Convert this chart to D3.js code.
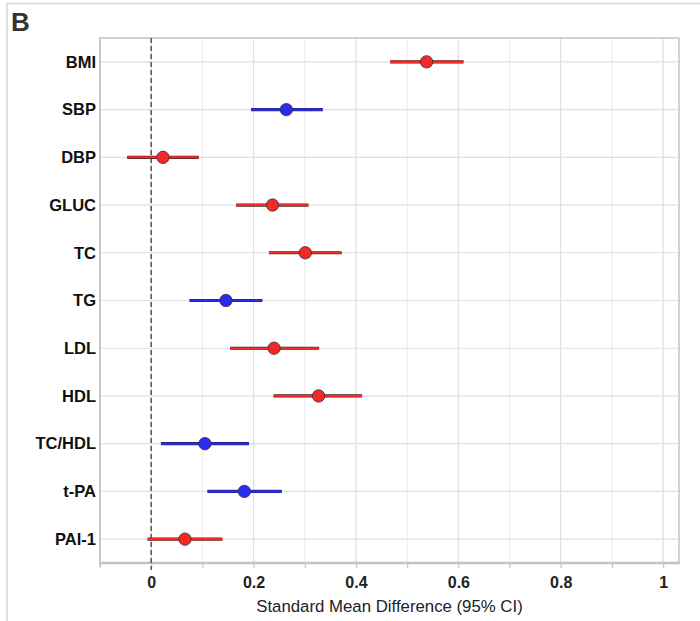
<!DOCTYPE html>
<html>
<head>
<meta charset="utf-8">
<script src="https://cdn.jsdelivr.net/npm/d3@7"></script>
<style>
  html, body { margin: 0; padding: 0; background: #fff; }
  svg { display: block; }
</style>
</head>
<body>
<svg id="chart" width="700" height="621"></svg>
<script>
// Forest plot: standardized mean difference with 95% CI per marker
const categories = ["BMI", "SBP", "DBP", "GLUC", "TC", "TG", "LDL", "HDL", "TC/HDL", "t-PA", "PAI-1"];
const estimates  = [0.538, 0.264, 0.023, 0.237, 0.301, 0.146, 0.240, 0.327, 0.105, 0.182, 0.066];
const ciLower    = [0.467, 0.195, -0.047, 0.166, 0.230, 0.075, 0.154, 0.239, 0.019, 0.110, -0.007];
const ciUpper    = [0.610, 0.335, 0.093, 0.307, 0.372, 0.217, 0.328, 0.412, 0.191, 0.255, 0.139];
const groups     = ["red", "blue", "red", "red", "red", "blue", "red", "red", "blue", "blue", "red"];
const xTicks     = [0, 0.2, 0.4, 0.6, 0.8, 1];
const xMinorTicks = [-0.1, 0.1, 0.3, 0.5, 0.7, 0.9];
const axisTitle  = "Standard Mean Difference (95% CI)";
const panelLabel = "B";

const rows = categories.map((c, i) => ({
  name: c, est: estimates[i], lo: ciLower[i], hi: ciUpper[i], group: groups[i]
}));

const palette = { red: "#f52828", blue: "#2b2bf0" };
const edgePalette = { red: "#4a2424", blue: "#20206a" };
const fontFamily = "Liberation Sans, Arial, Helvetica, sans-serif";

const svg = d3.select("#chart");
const plotLeft = 100, plotRight = 679, plotTop = 38, plotBottom = 563;

const x = d3.scaleLinear().domain([-0.1, 1.031]).range([plotLeft, plotRight]);
const y = d3.scalePoint().domain(categories).range([plotTop, plotBottom]).padding(0.5);

// outer panel frame
svg.append("path")
  .attr("d", `M7,621 V3.5 H700`)
  .attr("fill", "none")
  .attr("stroke", "#d4d4d4")
  .attr("stroke-width", 1.5);

svg.append("text")
  .attr("x", 11).attr("y", 31)
  .attr("font-family", fontFamily)
  .attr("font-weight", "bold")
  .attr("font-size", 26)
  .attr("fill", "#333")
  .text(panelLabel);

// grid
const grid = svg.append("g");
grid.selectAll("line.minor").data(xMinorTicks.filter(d => d > -0.1)).join("line")
  .attr("class", "minor")
  .attr("x1", d => x(d)).attr("x2", d => x(d))
  .attr("y1", plotTop).attr("y2", plotBottom)
  .attr("stroke", "#ececec").attr("stroke-width", 1);
grid.selectAll("line.major").data(xTicks).join("line")
  .attr("class", "major")
  .attr("x1", d => x(d)).attr("x2", d => x(d))
  .attr("y1", plotTop).attr("y2", plotBottom)
  .attr("stroke", "#dedede").attr("stroke-width", 1.2);
grid.selectAll("line.row").data(categories).join("line")
  .attr("class", "row")
  .attr("x1", plotLeft).attr("x2", plotRight)
  .attr("y1", d => y(d)).attr("y2", d => y(d))
  .attr("stroke", "#e0e0e0").attr("stroke-width", 1.2);

// plot border
svg.append("rect")
  .attr("x", plotLeft).attr("y", plotTop)
  .attr("width", plotRight - plotLeft).attr("height", plotBottom - plotTop)
  .attr("fill", "none")
  .attr("stroke", "#c4c4c4").attr("stroke-width", 1.5);

// x axis
const xAxis = d3.axisBottom(x)
  .tickValues(xTicks.concat(xMinorTicks).sort((a, b) => a - b))
  .tickSize(5)
  .tickFormat(d => xTicks.includes(d) ? d3.format("~g")(d) : "");
const gx = svg.append("g").attr("transform", `translate(0,${plotBottom})`).call(xAxis);
gx.select(".domain").attr("stroke", "#c4c4c4").attr("stroke-width", 2.5)
  .attr("d", `M${plotLeft - 1},0H${plotRight + 1}`);
gx.selectAll(".tick line").attr("stroke", "#c4c4c4").attr("stroke-width", 1.2);
gx.selectAll(".tick text")
  .attr("font-family", fontFamily)
  .attr("font-weight", "bold")
  .attr("font-size", 16)
  .attr("fill", "#222")
  .attr("y", 24.5)
  .attr("dy", 0);

svg.append("text")
  .attr("x", (plotLeft + plotRight) / 2).attr("y", 612)
  .attr("text-anchor", "middle")
  .attr("font-family", fontFamily)
  .attr("font-size", 16.8)
  .attr("fill", "#222")
  .text(axisTitle);

// y axis labels
const yAxis = d3.axisLeft(y).tickSize(0).tickPadding(4);
const gy = svg.append("g").attr("transform", `translate(${plotLeft},0)`).call(yAxis);
gy.select(".domain").attr("stroke", "#c4c4c4").attr("stroke-width", 1.5)
  .attr("d", `M0,${plotTop}V${plotBottom + 3}`);
gy.selectAll(".tick text")
  .attr("font-family", fontFamily)
  .attr("font-weight", "bold")
  .attr("font-size", 16.5)
  .attr("fill", "#111");

// reference line at zero
svg.append("line")
  .attr("x1", x(0)).attr("x2", x(0))
  .attr("y1", plotTop).attr("y2", plotBottom + 7)
  .attr("stroke", "#555").attr("stroke-width", 1.5)
  .attr("stroke-dasharray", "5,3");

// confidence intervals
const marks = svg.append("g");
marks.selectAll("line.ci-edge").data(rows).join("line")
  .attr("class", "ci-edge")
  .attr("x1", d => x(d.lo)).attr("x2", d => x(d.hi))
  .attr("y1", d => y(d.name)).attr("y2", d => y(d.name))
  .attr("stroke", d => edgePalette[d.group]).attr("stroke-width", 3.2);
marks.selectAll("line.ci").data(rows).join("line")
  .attr("class", "ci")
  .attr("x1", d => x(d.lo)).attr("x2", d => x(d.hi))
  .attr("y1", d => y(d.name)).attr("y2", d => y(d.name))
  .attr("stroke", d => palette[d.group]).attr("stroke-width", 2.1);

// point estimates
marks.selectAll("circle").data(rows).join("circle")
  .attr("cx", d => x(d.est)).attr("cy", d => y(d.name))
  .attr("r", 6.2)
  .attr("fill", d => palette[d.group])
  .attr("stroke", "#333").attr("stroke-width", 0.8);
</script>
</body>
</html>
